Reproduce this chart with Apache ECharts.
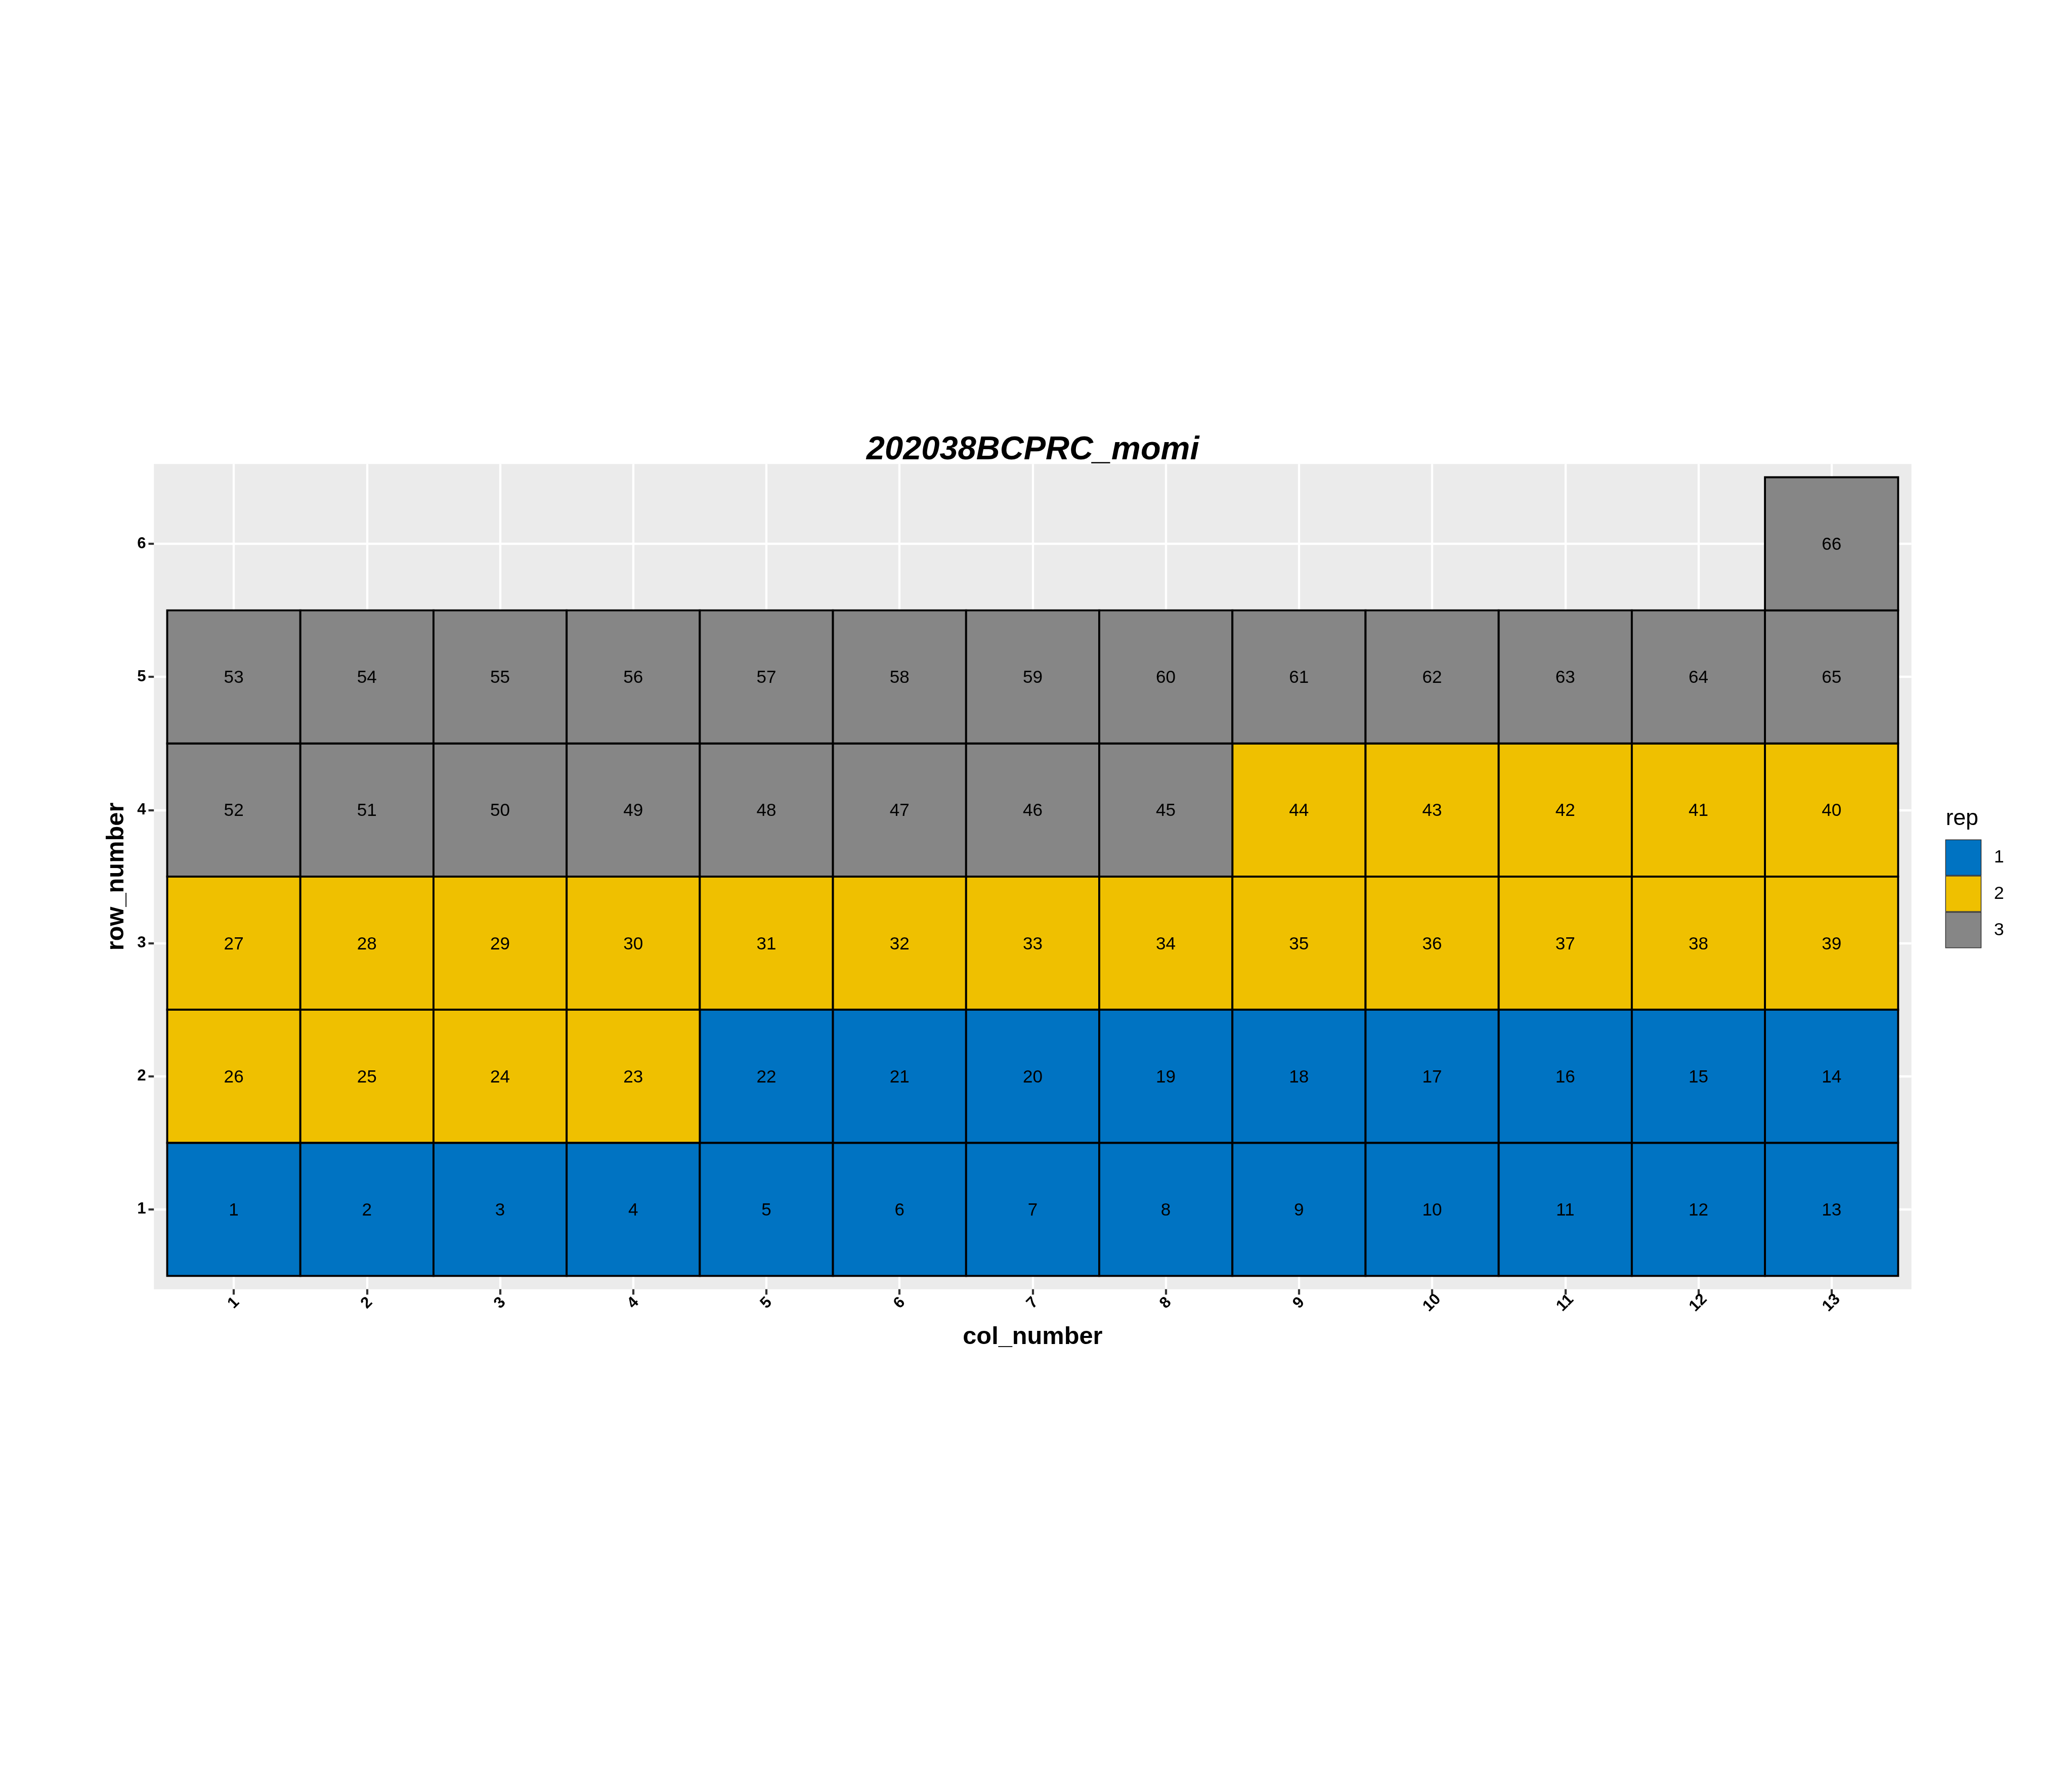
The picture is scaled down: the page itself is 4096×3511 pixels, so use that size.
<!DOCTYPE html>
<html>
<head>
<meta charset="utf-8">
<script src="https://cdn.jsdelivr.net/npm/echarts@6/dist/echarts.min.js"></script>
<style>
html,body{margin:0;padding:0;background:#fff;}
#chart{width:4096px;height:3511px;}
</style>
</head>
<body>
<div id="chart"></div>
<script>
// ---------------- data ----------------
const chartTitle = '202038BCPRC_momi';
const xTitle = 'col_number';
const yTitle = 'row_number';
const legendTitle = 'rep';
const repLevels = ['1', '2', '3'];
const repColors = ['#0073C2', '#EFC000', '#868686'];
const colNumbers = [1, 2, 3, 4, 5, 6, 7, 8, 9, 10, 11, 12, 13];
const rowNumbers = [1, 2, 3, 4, 5, 6];
// plot numbers, one array per row (row 1 first), columns 1..13
const plotRow1 = [1, 2, 3, 4, 5, 6, 7, 8, 9, 10, 11, 12, 13];
const plotRow2 = [26, 25, 24, 23, 22, 21, 20, 19, 18, 17, 16, 15, 14];
const plotRow3 = [27, 28, 29, 30, 31, 32, 33, 34, 35, 36, 37, 38, 39];
const plotRow4 = [52, 51, 50, 49, 48, 47, 46, 45, 44, 43, 42, 41, 40];
const plotRow5 = [53, 54, 55, 56, 57, 58, 59, 60, 61, 62, 63, 64, 65];
const plotRow6 = [null, null, null, null, null, null, null, null, null, null, null, null, 66];
// rep for each plot, same layout
const repRow1 = [1, 1, 1, 1, 1, 1, 1, 1, 1, 1, 1, 1, 1];
const repRow2 = [2, 2, 2, 2, 1, 1, 1, 1, 1, 1, 1, 1, 1];
const repRow3 = [2, 2, 2, 2, 2, 2, 2, 2, 2, 2, 2, 2, 2];
const repRow4 = [3, 3, 3, 3, 3, 3, 3, 3, 2, 2, 2, 2, 2];
const repRow5 = [3, 3, 3, 3, 3, 3, 3, 3, 3, 3, 3, 3, 3];
const repRow6 = [null, null, null, null, null, null, null, null, null, null, null, null, 3];

// ---------------- build ----------------
const S = 0.975;
const FONT = '"Liberation Sans", Arial, Helvetica, sans-serif';
const plotRows = [plotRow1, plotRow2, plotRow3, plotRow4, plotRow5, plotRow6];
const repRows = [repRow1, repRow2, repRow3, repRow4, repRow5, repRow6];

const seriesData = repLevels.map(() => []);
rowNumbers.forEach((r, ri) => {
  colNumbers.forEach((c, ci) => {
    const p = plotRows[ri][ci];
    const rep = repRows[ri][ci];
    if (p == null || rep == null) return;
    seriesData[rep - 1].push([c, r, p]);
  });
});

const gridLeft = 312 * S, gridRight = 4096 - 3875.5 * S;
const gridTop = 940.7 * S, gridBottom = 3511 - 2614 * S;

function renderTile(params, api) {
  const x = api.value(0), y = api.value(1);
  const p0 = api.coord([x - 0.5, y + 0.5]);
  const p1 = api.coord([x + 0.5, y - 0.5]);
  const c = api.coord([x, y]);
  return {
    type: 'group',
    children: [
      {
        type: 'rect',
        shape: { x: p0[0], y: p0[1], width: p1[0] - p0[0], height: p1[1] - p0[1] },
        style: { fill: api.visual('color'), stroke: '#000', lineWidth: 4 * S }
      },
      {
        type: 'text',
        x: c[0], y: c[1] + 2.5 * S,
        style: {
          text: String(api.value(2)), fill: '#000',
          fontSize: 36 * S, fontFamily: FONT,
          align: 'center', verticalAlign: 'middle'
        },
        z2: 10
      }
    ]
  };
}

const series = repLevels.map((name, i) => ({
  type: 'custom',
  name: name,
  renderItem: renderTile,
  itemStyle: { color: repColors[i] },
  encode: { x: 0, y: 1 },
  data: seriesData[i],
  silent: true,
  clip: false
}));

const axisCommon = {
  type: 'value',
  axisLine: { show: false },
  axisTick: { show: true, length: 11 * S, lineStyle: { color: '#333333', width: 4.3 * S } },
  splitLine: { show: true, lineStyle: { color: '#ffffff', width: 4.4 * S } },
  minorSplitLine: { show: false }
};

const option = {
  animation: false,
  backgroundColor: '#ffffff',
  grid: {
    left: gridLeft, right: gridRight, top: gridTop, bottom: gridBottom,
    show: true, backgroundColor: '#EBEBEB', borderWidth: 0
  },
  xAxis: Object.assign({}, axisCommon, {
    min: 0.4, max: 13.6,
    axisTick: Object.assign({}, axisCommon.axisTick, { customValues: colNumbers }),
    axisLabel: {
      customValues: colNumbers, rotate: 45, align: 'center', verticalAlign: 'middle',
      margin: 28 * S, fontSize: 32 * S, fontWeight: 'bold', color: '#000', fontFamily: FONT
    },
    name: xTitle, nameLocation: 'middle', nameGap: 94.5,
    nameTextStyle: { fontSize: 50 * S, fontWeight: 'bold', color: '#000', fontFamily: FONT, verticalAlign: 'middle' }
  }),
  yAxis: Object.assign({}, axisCommon, {
    min: 0.4, max: 6.6,
    axisTick: Object.assign({}, axisCommon.axisTick, { customValues: rowNumbers }),
    axisLabel: {
      customValues: rowNumbers, margin: 16 * S, fontSize: 32 * S, fontWeight: 'bold',
      color: '#000', fontFamily: FONT, padding: [3, 0, 0, 0]
    },
    name: yTitle, nameLocation: 'middle', nameGap: 73.4, nameRotate: 90,
    nameTextStyle: { fontSize: 50 * S, fontWeight: 'bold', color: '#000', fontFamily: FONT, verticalAlign: 'middle' }
  }),
  legend: {
    data: repLevels,
    orient: 'vertical',
    left: 3944 * S, top: 1702 * S,
    padding: 0,
    itemGap: 0,
    itemWidth: 72 * S, itemHeight: 72 * S,
    icon: 'rect',
    selectedMode: false,
    itemStyle: { borderColor: '#333333', borderWidth: 1.5 },
    textStyle: { fontSize: 36.7 * S, color: '#000', fontFamily: FONT, padding: [0, 0, 0, 21 * S] }
  },
  graphic: [
    {
      type: 'text', x: 2094 * S, y: 912.7 * S,
      style: {
        text: chartTitle, fontSize: 66.7 * S, fontWeight: 'bold', fontStyle: 'italic',
        fontFamily: FONT, fill: '#000', align: 'center', verticalAlign: 'middle'
      }
    },
    {
      type: 'text', x: 3945 * S, y: 1660.3 * S,
      style: {
        text: legendTitle, fontSize: 45.8 * S, fontFamily: FONT, fill: '#000',
        align: 'left', verticalAlign: 'middle'
      }
    }
  ],
  series: series
};

const chart = echarts.init(document.getElementById('chart'), null, { renderer: 'canvas' });
chart.setOption(option);
</script>
</body>
</html>
